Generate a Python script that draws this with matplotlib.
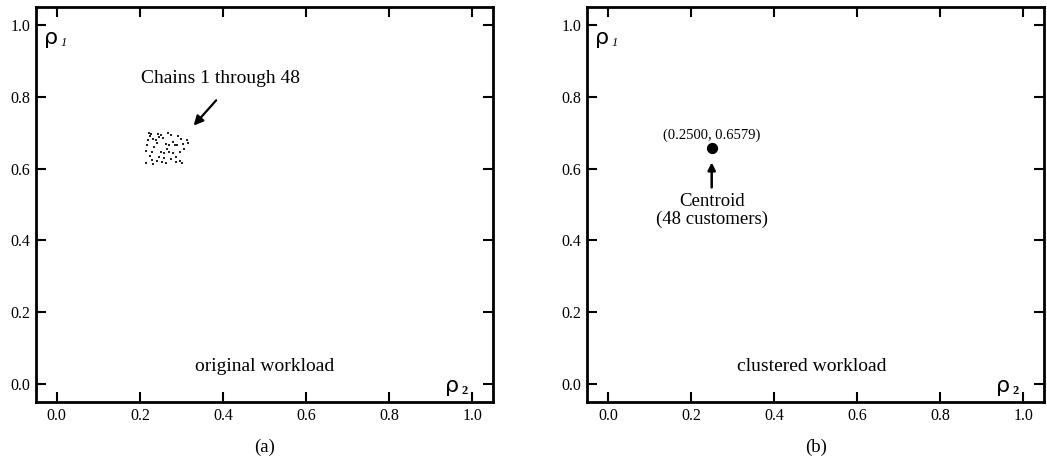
import matplotlib
matplotlib.use("Agg")
from matplotlib import pyplot as plt

plt.rcParams['font.family'] = ['Liberation Serif', 'DejaVu Serif']

# chains 1..48 (rho2, rho1)
chain_x = [0.222, 0.226, 0.224, 0.243, 0.250, 0.268, 0.275,
           0.219, 0.231, 0.238, 0.300, 0.314,
           0.262, 0.270, 0.284, 0.290, 0.303, 0.316,
           0.230, 0.252, 0.259, 0.271, 0.280, 0.297,
           0.245, 0.257, 0.287,
           0.214, 0.253, 0.262, 0.287, 0.302, 0.296,
           0.235, 0.215, 0.240, 0.246, 0.280, 0.225, 0.232, 0.265,
           0.275, 0.255, 0.218, 0.292, 0.305, 0.240, 0.228]
chain_y = [0.698, 0.696, 0.691, 0.697, 0.695, 0.699, 0.694,
           0.681, 0.682, 0.680, 0.683, 0.680,
           0.668, 0.666, 0.667, 0.665, 0.668, 0.670,
           0.645, 0.646, 0.643, 0.645, 0.644, 0.646,
           0.632, 0.630, 0.633,
           0.617, 0.618, 0.616, 0.619, 0.617, 0.621,
           0.660, 0.650, 0.620, 0.688, 0.675, 0.635, 0.612, 0.655,
           0.628, 0.685, 0.666, 0.690, 0.655, 0.670, 0.625]
centroid = (0.2500, 0.6579)
ticks = [0.0, 0.2, 0.4, 0.6, 0.8, 1.0]
tick_labels = ['0.0', '0.2', '0.4', '0.6', '0.8', '1.0']

fig = plt.figure(figsize=(10.47, 4.66), dpi=100)
ax1 = fig.add_axes([0.0344, 0.1373, 0.4365, 0.8476])
ax2 = fig.add_axes([0.5607, 0.1373, 0.4365, 0.8476])

for ax in (ax1, ax2):
    ax.set_xlim(-0.05, 1.05)
    ax.set_ylim(-0.05, 1.05)
    ax.set_xticks(ticks)
    ax.set_yticks(ticks)
    ax.set_xticklabels(tick_labels)
    ax.set_yticklabels(tick_labels)
    ax.tick_params(direction='in', length=7, width=1.5, top=True, right=True,
                   labelsize=11.5, pad=4)
    for s in ax.spines.values():
        s.set_linewidth(2)
    # rho labels
    ax.text(-0.03, 0.965, 'ρ', fontsize=16, family='DejaVu Sans', va='center', ha='left')
    ax.text(0.008, 0.95, '1', fontsize=9, style='italic', va='center', ha='left')
    ax.text(0.935, -0.005, 'ρ', fontsize=16, family='DejaVu Sans', va='center', ha='left')
    ax.text(0.975, -0.02, '2', fontsize=9, fontweight='bold', va='center', ha='left')

ax1.scatter(chain_x, chain_y, s=2, marker='s', color='#222222', linewidths=0)
ax1.annotate('', xy=(0.325, 0.714), xytext=(0.388, 0.796),
             arrowprops=dict(arrowstyle='-|>', color='black', lw=1.6, mutation_scale=14))
ax1.text(0.394, 0.85, 'Chains 1 through 48', fontsize=14, ha='center', va='center')
ax1.text(0.5, 0.05, 'original workload', fontsize=14, ha='center', va='center')

ax2.scatter([centroid[0]], [centroid[1]], s=50, color='black')
ax2.text(centroid[0], 0.694, '(%.4f, %.4f)' % centroid, fontsize=10.5, ha='center', va='center')
ax2.annotate('', xy=(centroid[0], 0.625), xytext=(centroid[0], 0.54),
             arrowprops=dict(arrowstyle='-|>', color='black', lw=1.8, mutation_scale=11))
ax2.text(centroid[0], 0.508, 'Centroid', fontsize=13.5, ha='center', va='center')
ax2.text(centroid[0], 0.458, '(48 customers)', fontsize=13.5, ha='center', va='center')
ax2.text(0.49, 0.05, 'clustered workload', fontsize=14, ha='center', va='center')

fig.text(0.253, 0.04, '(a)', fontsize=13.5, ha='center', va='center')
fig.text(0.779, 0.04, '(b)', fontsize=13.5, ha='center', va='center')

fig.savefig('out.png', dpi=100)
